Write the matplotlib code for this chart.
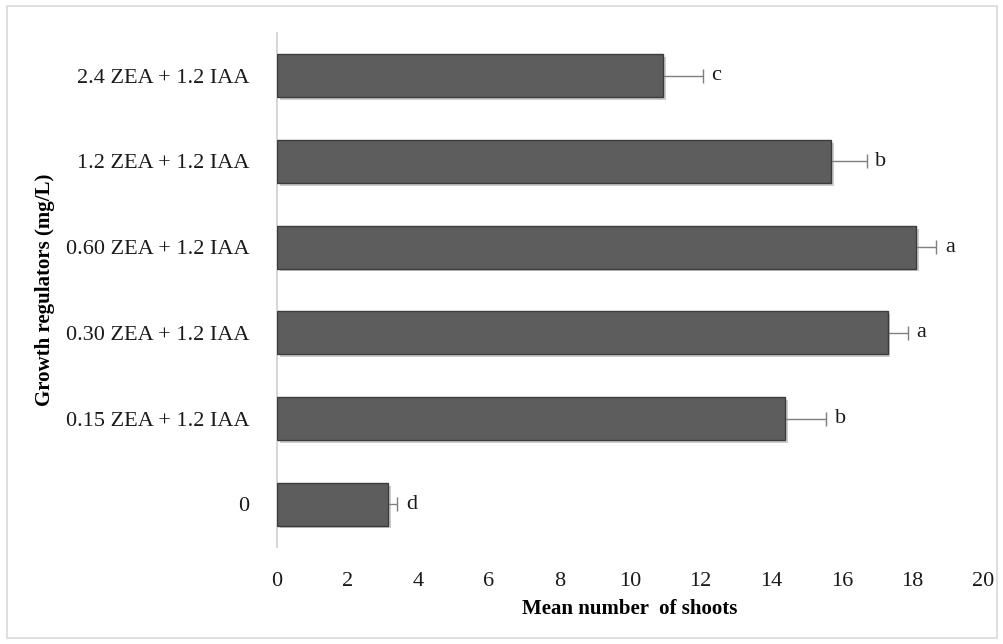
import matplotlib
matplotlib.use("Agg")
import matplotlib.pyplot as plt
import matplotlib.patheffects as pe
from matplotlib.patches import Rectangle

categories = ["0", "0.15 ZEA + 1.2 IAA", "0.30 ZEA + 1.2 IAA", "0.60 ZEA + 1.2 IAA",
              "1.2 ZEA + 1.2 IAA", "2.4 ZEA + 1.2 IAA"]
means = [3.15, 14.4, 17.3, 18.1, 15.7, 10.93]
errors = [0.26, 1.15, 0.57, 0.57, 1.0, 1.13]
letters = ["d", "b", "a", "a", "b", "c"]
xticks = [0, 2, 4, 6, 8, 10, 12, 14, 16, 18, 20]

plt.rcParams['font.family'] = ['Liberation Serif', 'DejaVu Serif']

fig = plt.figure(figsize=(10.04, 6.44), dpi=100)
ax = fig.add_axes([0.2759, 0.1506, 0.7032, 0.7982])

fig.patches.append(Rectangle((0.007, 0.01), 0.986, 0.98, transform=fig.transFigure,
                             fill=False, edgecolor='#d9d9d9', linewidth=1.2))

y = list(range(len(categories)))
bars = ax.barh(y, means, height=0.5, color='#5d5d5d', edgecolor='#3c3c3c', linewidth=1.0, zorder=3)
for b in bars:
    b.set_path_effects([pe.SimplePatchShadow(offset=(2, -2), shadow_rgbFace='#9a9a9a', alpha=0.5),
                        pe.Normal()])
ends = [m + e for m, e in zip(means, errors)]
ax.hlines(y, means, ends, color='#7f7f7f', linewidth=1.0, zorder=2)
ax.plot(ends, y, linestyle='none', marker='|', markersize=10, markeredgewidth=1.0,
        color='#7f7f7f', zorder=2)
for yi, end, l in zip(y, ends, letters):
    ax.text(end + 0.25, yi, l, va='center', ha='left', fontsize=16, color='#1a1a1a')

ax.set_xlim(0, 20)
ax.set_ylim(-0.5, len(categories) - 0.5)
ax.set_xticks(xticks)
ax.set_yticks(y)
ax.set_yticklabels(categories)
ax.tick_params(axis='both', length=0, labelsize=16, colors='#1a1a1a')
ax.tick_params(axis='y', pad=20)
ax.tick_params(axis='x', pad=18)
for s in ['top', 'right', 'bottom']:
    ax.spines[s].set_visible(False)
ax.spines['left'].set_color('#d0d0d0')
ax.spines['left'].set_linewidth(1.2)

ax.set_xlabel("Mean number  of shoots", fontsize=15, fontweight='bold', labelpad=6)
fig.text(0.045, 0.55, "Growth regulators (mg/L)", rotation=90, fontsize=15,
         fontweight='bold', ha='center', va='center')

fig.savefig("out.png", dpi=100)
